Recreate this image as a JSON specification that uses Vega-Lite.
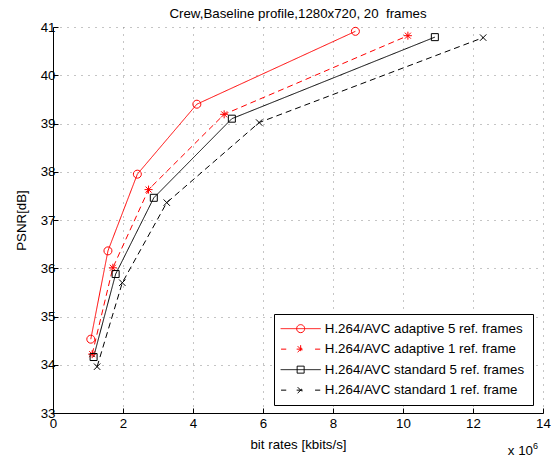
{
  "$schema": "https://vega.github.io/schema/vega-lite/v6.json",
  "width": 490,
  "height": 386,
  "autosize": "none",
  "padding": {"left": 53, "right": 12, "top": 27, "bottom": 44},
  "background": "white",
  "title": {
    "text": "Crew,Baseline profile,1280x720, 20\u00a0 frames",
    "font": "Liberation Sans",
    "fontSize": 13.3,
    "fontWeight": "normal",
    "color": "black",
    "anchor": "middle",
    "offset": 0
  },
  "data": {
    "values": [
      {"series": "H.264/AVC adaptive 5 ref. frames", "rate": 1080000, "psnr": 34.53},
      {"series": "H.264/AVC adaptive 5 ref. frames", "rate": 1570000, "psnr": 36.36},
      {"series": "H.264/AVC adaptive 5 ref. frames", "rate": 2410000, "psnr": 37.95},
      {"series": "H.264/AVC adaptive 5 ref. frames", "rate": 4110000, "psnr": 39.40},
      {"series": "H.264/AVC adaptive 5 ref. frames", "rate": 8640000, "psnr": 40.91},
      {"series": "H.264/AVC adaptive 1 ref. frame", "rate": 1120000, "psnr": 34.22},
      {"series": "H.264/AVC adaptive 1 ref. frame", "rate": 1710000, "psnr": 36.01},
      {"series": "H.264/AVC adaptive 1 ref. frame", "rate": 2730000, "psnr": 37.63},
      {"series": "H.264/AVC adaptive 1 ref. frame", "rate": 4890000, "psnr": 39.19},
      {"series": "H.264/AVC adaptive 1 ref. frame", "rate": 10140000, "psnr": 40.82},
      {"series": "H.264/AVC standard 5 ref. frames", "rate": 1160000, "psnr": 34.16},
      {"series": "H.264/AVC standard 5 ref. frames", "rate": 1790000, "psnr": 35.88},
      {"series": "H.264/AVC standard 5 ref. frames", "rate": 2880000, "psnr": 37.46},
      {"series": "H.264/AVC standard 5 ref. frames", "rate": 5110000, "psnr": 39.10},
      {"series": "H.264/AVC standard 5 ref. frames", "rate": 10910000, "psnr": 40.79},
      {"series": "H.264/AVC standard 1 ref. frame", "rate": 1260000, "psnr": 33.96},
      {"series": "H.264/AVC standard 1 ref. frame", "rate": 1980000, "psnr": 35.70},
      {"series": "H.264/AVC standard 1 ref. frame", "rate": 3250000, "psnr": 37.36},
      {"series": "H.264/AVC standard 1 ref. frame", "rate": 5890000, "psnr": 39.02},
      {"series": "H.264/AVC standard 1 ref. frame", "rate": 12290000, "psnr": 40.78}
    ]
  },
  "encoding": {
    "x": {
      "field": "rate",
      "type": "quantitative",
      "scale": {"domain": [0, 14000000], "nice": false, "zero": false},
      "axis": {
        "title": "bit rates [kbits/s]",
        "values": [0, 2000000, 4000000, 6000000, 8000000, 10000000, 12000000, 14000000],
        "labelExpr": "format(datum.value / 1000000, 'd')",
        "labelPadding": 8,
        "titlePadding": 8
      }
    },
    "y": {
      "field": "psnr",
      "type": "quantitative",
      "scale": {"domain": [33, 41], "nice": false, "zero": false},
      "axis": {
        "title": "PSNR[dB]",
        "values": [33, 34, 35, 36, 37, 38, 39, 40, 41],
        "labelPadding": 3,
        "titlePadding": 12
      }
    }
  },
  "layer": [
    {
      "mark": {"type": "line", "strokeWidth": 1},
      "encoding": {
        "color": {
          "field": "series",
          "type": "nominal",
          "scale": {
            "domain": ["H.264/AVC adaptive 5 ref. frames", "H.264/AVC adaptive 1 ref. frame", "H.264/AVC standard 5 ref. frames", "H.264/AVC standard 1 ref. frame"],
            "range": ["#ff0000", "#ff0000", "#000000", "#000000"]
          },
          "legend": {
            "orient": "none",
            "legendX": 221,
            "legendY": 287,
            "title": null,
            "padding": 8,
            "strokeColor": "black",
            "fillColor": "white",
            "cornerRadius": 0,
            "labelFont": "Liberation Sans",
            "labelFontSize": 13.3,
            "labelColor": "black",
            "labelLimit": 400,
            "symbolSize": 64,
            "symbolStrokeWidth": 1,
            "symbolOffset": 12,
            "labelOffset": 17.5,
            "rowPadding": 6.5,
            "encode": {
              "symbols": {
                "update": {
                  "shape": {"signal": "['M-5,0H5M-1,0A1,1 0 1 1 1,0A1,1 0 1 1 -1,0', 'M-4.9,0H-3.6M-1,0H1M3.6,0H4.9M0,-1V1M-0.75,-0.75L0.75,0.75M-0.75,0.75L0.75,-0.75', 'M-5,0H5M-0.875,-0.875H0.875V0.875H-0.875Z', 'M-4.9,0H-3.6M-1,0H1M3.6,0H4.9M-0.75,-0.75L0.75,0.75M-0.75,0.75L0.75,-0.75'][datum.index]"},
                  "stroke": {"signal": "datum.index < 2 ? '#ff0000' : '#000000'"},
                  "fill": {"value": "transparent"},
                  "strokeDash": {"value": [1, 0]},
                  "size": {"value": 64},
                  "strokeWidth": {"value": 1},
                  "opacity": {"value": 1}
                }
              }
            }
          }
        },
        "strokeDash": {
          "field": "series",
          "type": "nominal",
          "scale": {
            "domain": ["H.264/AVC adaptive 5 ref. frames", "H.264/AVC adaptive 1 ref. frame", "H.264/AVC standard 5 ref. frames", "H.264/AVC standard 1 ref. frame"],
            "range": [[1, 0], [6, 4], [1, 0], [6, 4]]
          },
          "legend": null
        }
      }
    },
    {
      "transform": [{"filter": "datum.series === 'H.264/AVC adaptive 5 ref. frames'"}],
      "mark": {"type": "point", "filled": false, "strokeWidth": 1, "size": 64, "opacity": 1, "color": "#ff0000", "shape": "M-1,0A1,1 0 1 1 1,0A1,1 0 1 1 -1,0"}
    },
    {
      "transform": [{"filter": "datum.series === 'H.264/AVC adaptive 1 ref. frame'"}],
      "mark": {"type": "point", "filled": false, "strokeWidth": 1, "size": 64, "opacity": 1, "color": "#ff0000", "shape": "M0,-1V1M-1,0H1M-0.75,-0.75L0.75,0.75M-0.75,0.75L0.75,-0.75"}
    },
    {
      "transform": [{"filter": "datum.series === 'H.264/AVC standard 5 ref. frames'"}],
      "mark": {"type": "point", "filled": false, "strokeWidth": 1, "size": 64, "opacity": 1, "color": "#000000", "shape": "M-0.875,-0.875H0.875V0.875H-0.875Z"}
    },
    {
      "transform": [{"filter": "datum.series === 'H.264/AVC standard 1 ref. frame'"}],
      "mark": {"type": "point", "filled": false, "strokeWidth": 1, "size": 64, "opacity": 1, "color": "#000000", "shape": "M-0.8,-0.8L0.8,0.8M-0.8,0.8L0.8,-0.8"}
    },
    {
      "transform": [{"filter": "datum.rate === 12290000"}],
      "mark": {"type": "text", "text": "x 10", "align": "right", "baseline": "alphabetic", "dx": -10, "dy": 42, "font": "Liberation Sans", "fontSize": 13.3, "fill": "black"},
      "encoding": {
        "x": {"datum": 14000000, "type": "quantitative"},
        "y": {"datum": 33, "type": "quantitative"}
      }
    },
    {
      "transform": [{"filter": "datum.rate === 12290000"}],
      "mark": {"type": "text", "text": "6", "align": "left", "baseline": "alphabetic", "dx": -10, "dy": 36, "font": "Liberation Sans", "fontSize": 9, "fill": "black"},
      "encoding": {
        "x": {"datum": 14000000, "type": "quantitative"},
        "y": {"datum": 33, "type": "quantitative"}
      }
    }
  ],
  "config": {
    "view": {"stroke": null},
    "axis": {
      "labelFont": "Liberation Sans",
      "labelFontSize": 13.3,
      "labelColor": "black",
      "titleFont": "Liberation Sans",
      "titleFontSize": 13.3,
      "titleFontWeight": "normal",
      "titleColor": "black",
      "domainColor": "black",
      "domainWidth": 1,
      "tickColor": "black",
      "tickWidth": 1,
      "tickSize": -5,
      "grid": true,
      "gridColor": "#8a8a8a",
      "gridDash": [1, 6],
      "gridWidth": 1,
      "gridOpacity": 1,
      "labelFlush": false
    }
  }
}
